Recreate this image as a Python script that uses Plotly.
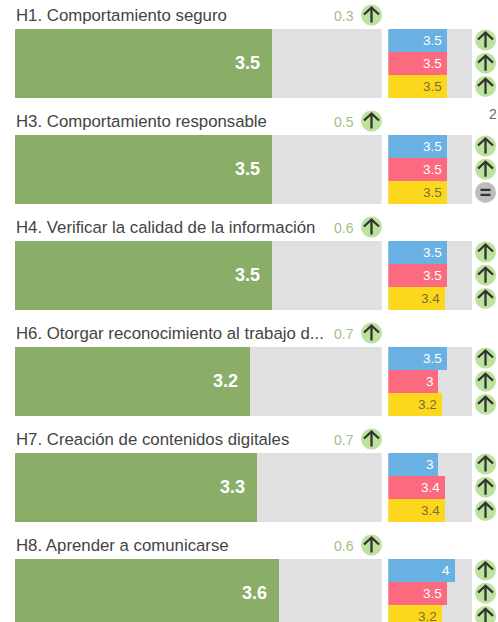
import plotly.graph_objects as go

W, H = 498, 622
titles = ["H1. Comportamiento seguro", "H3. Comportamiento responsable",
          "H4. Verificar la calidad de la información",
          "H6. Otorgar reconocimiento al trabajo d...",
          "H7. Creación de contenidos digitales", "H8. Aprender a comunicarse"]
overall = [3.5, 3.5, 3.5, 3.2, 3.3, 3.6]
deltas = ["0.3", "0.5", "0.6", "0.7", "0.7", "0.6"]
groups = ["A", "B", "C"]
group_a = [3.5, 3.5, 3.5, 3.5, 3, 4]
group_b = [3.5, 3.5, 3.5, 3, 3.4, 3.5]
group_c = [3.5, 3.5, 3.4, 3.2, 3.4, 3.2]
group_labels_a = ["3.5", "3.5", "3.5", "3.5", "3", "4"]
group_labels_b = ["3.5", "3.5", "3.5", "3", "3.4", "3.5"]
group_labels_c = ["3.5", "3.5", "3.4", "3.2", "3.4", "3.2"]
trend_a = ["up"] * 6
trend_b = ["up"] * 6
trend_c = ["up", "eq", "up", "up", "up", "up"]
scale_max = 5

GREEN, GREY, BLUE, RED, YEL = "#8aae68", "#e0e0e0", "#6ab1e3", "#fc6a7f", "#fdd71e"
UP, EQ = "#bce29e", "#bdbdbd"
FONT = "Liberation Sans"
ROW0, STEP, BAR_H = 28.5, 106, 69.5

fig = go.Figure()
layout = dict(width=W, height=H, margin=dict(l=0, r=0, t=0, b=0, pad=0), showlegend=False,
              paper_bgcolor="white", plot_bgcolor="rgba(0,0,0,0)", barmode="overlay", bargap=0,
              hovermode=False, annotations=[])
hidden = dict(showgrid=False, zeroline=False, showticklabels=False, ticks="", showline=False)

for i in range(len(titles)):
    top = ROW0 + i * STEP
    bottom = min(top + BAR_H, H)
    visible = (bottom - top) / BAR_H
    dom = [1 - bottom / H, 1 - top / H]
    na, nb = 2 * i + 1, 2 * i + 2
    xa, ya = ("x", "y") if na == 1 else (f"x{na}", f"y{na}")
    xb, yb = f"x{nb}", f"y{nb}"
    key = lambda ax, n: f"{ax}axis" + ("" if n == 1 else str(n))
    layout[key("x", na)] = dict(domain=[15 / W, 381.7 / W], range=[0, scale_max], anchor=ya, **hidden)
    layout[key("y", na)] = dict(domain=dom, range=[-0.5 + visible, -0.5], type="category", anchor=xa, **hidden)
    layout[key("x", nb)] = dict(domain=[388.3 / W, 472 / W], range=[0, scale_max], anchor=yb, **hidden)
    layout[key("y", nb)] = dict(domain=dom, range=[-0.5 + 3 * visible, -0.5], type="category", anchor=xb, **hidden)

    fig.add_bar(x=[scale_max], y=["all"], orientation="h", marker=dict(color=GREY, line_width=0), xaxis=xa, yaxis=ya)
    fig.add_bar(x=[overall[i]], y=["all"], orientation="h", marker=dict(color=GREEN, line_width=0), xaxis=xa, yaxis=ya)
    layout["annotations"].append(dict(x=overall[i], y="all", xref=xa, yref=ya, text=f"{overall[i]}", showarrow=False,
                                      xanchor="right", xshift=-10, font=dict(family=FONT, size=18, color="white", weight="bold")))

    vals = [group_a[i], group_b[i], group_c[i]]
    labs = [group_labels_a[i], group_labels_b[i], group_labels_c[i]]
    fig.add_bar(x=[scale_max] * 3, y=groups, orientation="h", marker=dict(color=GREY, line_width=0), xaxis=xb, yaxis=yb)
    fig.add_bar(x=vals, y=groups, orientation="h", marker=dict(color=[BLUE, RED, YEL], line_width=0), xaxis=xb, yaxis=yb)
    for g, v, t, c in zip(groups, vals, labs, ["#ffffff", "#ffffff", "#77722c"]):
        layout["annotations"].append(dict(x=v, y=g, xref=xb, yref=yb, text=t, showarrow=False, xanchor="right", xshift=-3,
                                          font=dict(family=FONT, size=13.5, color=c)))

# Overlay axis in page pixels for row headers and trend badges
layout["xaxis13"] = dict(domain=[0, 1], range=[0, W], anchor="y13", **hidden)
layout["yaxis13"] = dict(domain=[0, 1], range=[H, 0], anchor="x13", **hidden)

bx, by, bc, bt = [], [], [], []
for i in range(len(titles)):
    top = ROW0 + i * STEP
    layout["annotations"].append(dict(x=13.5, y=top - 13, xref="x13", yref="y13", text=titles[i], showarrow=False, xanchor="left",
                                      font=dict(family=FONT, size=16.8, color="#444444")))
    layout["annotations"].append(dict(x=355.5, y=top - 12.5, xref="x13", yref="y13", text=deltas[i], showarrow=False, xanchor="right",
                                      font=dict(family=FONT, size=14, color="#a3bf85")))
    bx.append(371.5); by.append(top - 13.5); bc.append(UP); bt.append("up")
    for j, tr in enumerate([trend_a[i], trend_b[i], trend_c[i]]):
        bx.append(485.5); by.append(top + 11.5 + j * 23.2); bc.append(UP if tr == "up" else EQ); bt.append(tr)

fig.add_scatter(x=bx, y=by, mode="markers", marker=dict(size=21, color=bc, line_width=0), xaxis="x13", yaxis="y13", cliponaxis=False)
gx, gy = [], []
for x, y, t in zip(bx, by, bt):
    if t == "up":
        gx += [x, x, None, x - 7.5, x, x + 7.5, None]
        gy += [y + 7.5, y - 7.5, None, y - 0.5, y - 7.5, y - 0.5, None]
    else:
        gx += [x - 5, x + 5, None, x - 5, x + 5, None]
        gy += [y - 2.5, y - 2.5, None, y + 2.5, y + 2.5, None]
fig.add_scatter(x=gx, y=gy, mode="lines", line=dict(color="#333333", width=2.3), connectgaps=False, xaxis="x13", yaxis="y13")

layout["annotations"].append(dict(x=493, y=114, xref="x13", yref="y13", text="2", showarrow=False,
                                  font=dict(family=FONT, size=14, color="#666666")))

fig.update_layout(**layout)
fig.write_html("out.html", config=dict(displayModeBar=False),
               post_script="document.body.style.margin='0';document.documentElement.style.overflow='hidden';")
